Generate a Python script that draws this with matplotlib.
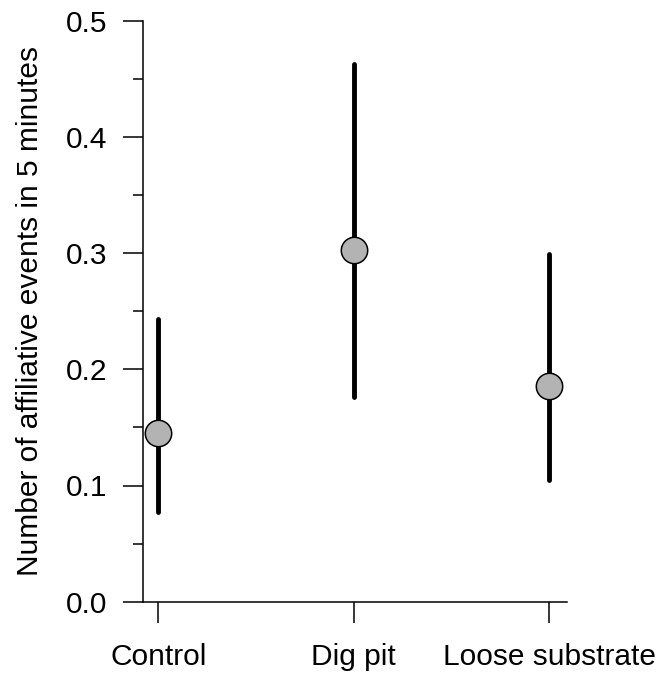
import numpy as np
import matplotlib
matplotlib.use('Agg')
import matplotlib.pyplot as plt
from matplotlib.ticker import MultipleLocator

# values
groups = ['Control', 'Dig pit', 'Loose substrate']
means = [0.145, 0.303, 0.186]
lower = [0.077, 0.176, 0.105]
upper = [0.243, 0.463, 0.299]

plt.rcParams['font.family'] = ['Liberation Sans', 'DejaVu Sans']

fig = plt.figure(figsize=(6.69, 6.74), dpi=100)
ax = fig.add_axes([143/669, 1 - 601.7/674, 424/669, 581/674])

x = np.arange(1, len(groups) + 1)
for xi, m, lo, hi in zip(x, means, lower, upper):
    ax.plot([xi, xi], [lo, hi], color='black', lw=3.5, solid_capstyle='round', zorder=2)
    ax.plot(xi, m, 'o', ms=19, mfc='#b3b3b3', mec='black', mew=1.1, zorder=3)

ax.set_xlim(0.922, 3.09)
ax.set_ylim(0, 0.5)
ax.set_xticks(x)
ax.set_xticklabels(groups)
ax.yaxis.set_major_locator(MultipleLocator(0.1))
ax.yaxis.set_minor_locator(MultipleLocator(0.05))
ax.yaxis.set_major_formatter(matplotlib.ticker.FormatStrFormatter('%.1f'))

for s in ['top', 'right']:
    ax.spines[s].set_visible(False)
for s in ['left', 'bottom']:
    ax.spines[s].set_linewidth(1.1)

ax.tick_params(axis='y', which='major', length=14.4, width=1.1, pad=11, labelsize=21.5)
ax.tick_params(axis='y', which='minor', length=7.2, width=1.1)
ax.tick_params(axis='x', which='major', length=15, width=1.1, pad=15, labelsize=21.5)

ax.set_ylabel('Number of affiliative events in 5 minutes', fontsize=21.5, labelpad=16)

fig.savefig('out.png', dpi=100)
